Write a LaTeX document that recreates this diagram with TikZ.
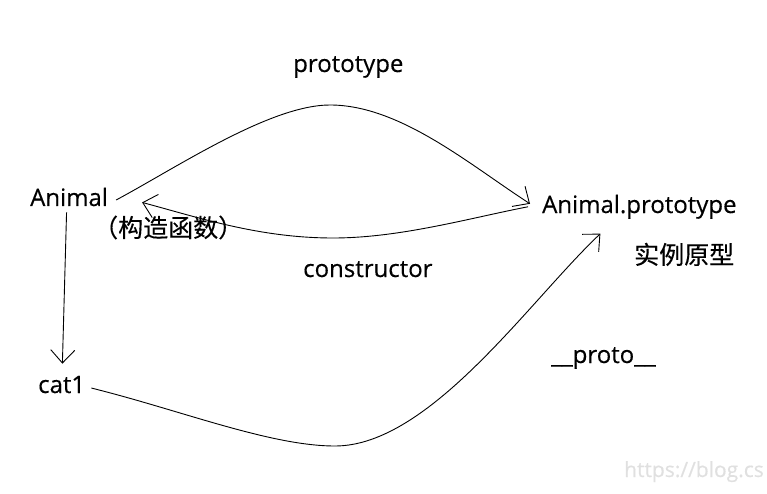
\documentclass[tikz,border=0pt]{standalone}
\usepackage{fontspec}
\setmainfont[FakeBold=0.4]{Open Sans}
\newfontfamily\cjkfont[FakeBold=0.3]{Noto Sans CJK SC}
\usetikzlibrary{arrows.meta}

\begin{document}
\begin{tikzpicture}[x=1pt,y=-1pt,
      every node/.style={inner sep=0pt,anchor=base west,font=\fontsize{24}{28}\selectfont},
      cjk/.style={font=\cjkfont\fontsize{25}{30}\selectfont},
      link/.style={draw,line width=0.9pt,-{Straight Barb[length=13pt,width=24pt]}}]
      \useasboundingbox (0,0) rectangle (767,494);
      \node (Animal) at (30,206) {Animal};
      \node[cjk] (Ctor) at (93,237) {（构造函数）};
      \node (AnimalProto) at (542,213) {Animal.prototype};
      \node[cjk] (ProtoNote) at (634,264) {实例原型};
      \node (cat) at (38,393) {cat1};
      \node (protoLbl) at (293,72) {prototype};
      \node (ctorLbl) at (303,277) {constructor};
      \node (dunderLbl) at (551,363) {\_\_proto\_\_};
      \node[anchor=base east,text=black!12,font=\fontsize{21}{25}\selectfont] (mark) at (764,477) {https://blog.cs};
      % prototype
      \draw[link] ([xshift=8pt,yshift=-3pt]Animal.east) .. controls (176,168) and (270,105) .. (330,105)
            .. controls (400,105) and (470,165) .. ([xshift=-12pt,yshift=3pt]AnimalProto.west);
      % constructor
      \draw[link] ([xshift=-14pt]AnimalProto.west) .. controls (470,218) and (400,238) .. (333,238)
            .. controls (260,238) and (200,218) .. ([xshift=34pt,yshift=4pt]Animal.south east);
      % new
      \draw[link] ([xshift=-2.5pt,yshift=-6pt]Animal.south) -- ([xshift=0.7pt,yshift=12pt]cat.north);
      % __proto__
      \draw[link] ([xshift=6pt,yshift=-3.5pt]cat.east) .. controls (180,410) and (270,446) .. (335,446)
            .. controls (430,446) and (530,300) .. ([xshift=-39pt,yshift=-14.7pt]AnimalProto.south);
\end{tikzpicture}
\end{document}
